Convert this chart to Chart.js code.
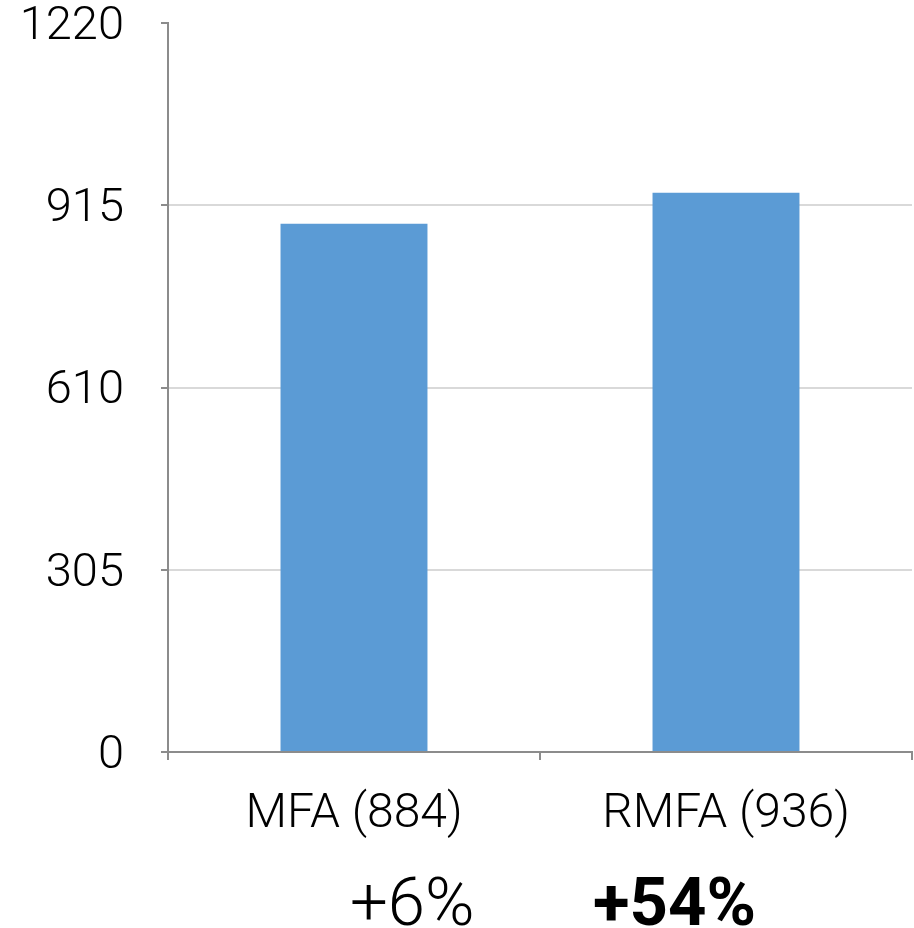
<!DOCTYPE html>
<html>
<head>
<meta charset="utf-8">
<script src="https://cdn.jsdelivr.net/npm/chart.js@4.4.1/dist/chart.umd.min.js"></script>
<style>
    html, body { margin: 0; padding: 0; background: #fff; }
    #wrap { position: relative; width: 914px; height: 928px; overflow: hidden; }
    .note { position: absolute; top: 869px; font-family: Roboto, 'Liberation Sans', sans-serif; font-size: 67px; color: #000; line-height: 67px; white-space: nowrap; }
</style>
</head>
<body>
<div id="wrap">
    <canvas id="barChart" width="914" height="928"></canvas>
</div>
<script>
// Data
const categories = ['MFA (884)', 'RMFA (936)'];
const counts = [884, 936];
const yTicks = [0, 305, 610, 915, 1220];
const growthLabels = ['+6%', '+54%'];

const axisGray = '#8c8c8c';
const gridGray = '#d9d9d9';
const fontFamily = "Roboto, 'Liberation Sans', sans-serif";

document.addEventListener('DOMContentLoaded', function() {
    createBarChart();
    addGrowthNotes();
});

function createBarChart() {
    const ctx = document.getElementById('barChart').getContext('2d');
    new Chart(ctx, {
        type: 'bar',
        data: {
            labels: categories,
            datasets: [{
                data: counts,
                backgroundColor: '#5b9bd5',
                borderWidth: 0,
                barPercentage: 0.395,
                categoryPercentage: 1
            }]
        },
        options: {
            responsive: false,
            animation: false,
            layout: { padding: { top: 23, right: 2, left: 0, bottom: 0 } },
            scales: {
                x: {
                    grid: {
                        offset: true,
                        drawOnChartArea: false,
                        color: axisGray,
                        tickColor: axisGray,
                        tickLength: 8,
                        lineWidth: 2
                    },
                    border: { color: axisGray, width: 2 },
                    ticks: {
                        color: '#000',
                        padding: 26,
                        font: { family: fontFamily, size: 48, weight: 300 }
                    },
                    afterFit: scale => {
                        scale.height = 176;
                        scale.paddingLeft = 0;
                        scale.paddingRight = 0;
                    }
                },
                y: {
                    min: 0,
                    max: 1220,
                    afterBuildTicks: scale => {
                        scale.ticks = yTicks.map(v => ({ value: v }));
                    },
                    grid: {
                        color: c => (c.tick && c.tick.value > 0 && c.tick.value < 1220) ? gridGray : 'rgba(0,0,0,0)',
                        tickColor: axisGray,
                        tickLength: 7,
                        lineWidth: 2
                    },
                    border: { color: axisGray, width: 2 },
                    ticks: {
                        color: '#000',
                        padding: 37,
                        labelOffset: 4,
                        callback: value => String(value),
                        font: { family: fontFamily, size: 47, weight: 300 }
                    },
                    afterFit: scale => {
                        scale.width = 168;
                        scale.paddingTop = 0;
                        scale.paddingBottom = 0;
                    }
                }
            },
            plugins: {
                legend: { display: false },
                tooltip: { enabled: false }
            }
        }
    });
}

function addGrowthNotes() {
    // Percent notes under the category labels
    const wrap = document.getElementById('wrap');
    const lefts = [350, 593];
    const weights = [300, 700];
    growthLabels.forEach((text, i) => {
        const el = document.createElement('div');
        el.className = 'note';
        el.textContent = text;
        el.style.left = lefts[i] + 'px';
        el.style.fontWeight = weights[i];
        wrap.appendChild(el);
    });
}
</script>
</body>
</html>
